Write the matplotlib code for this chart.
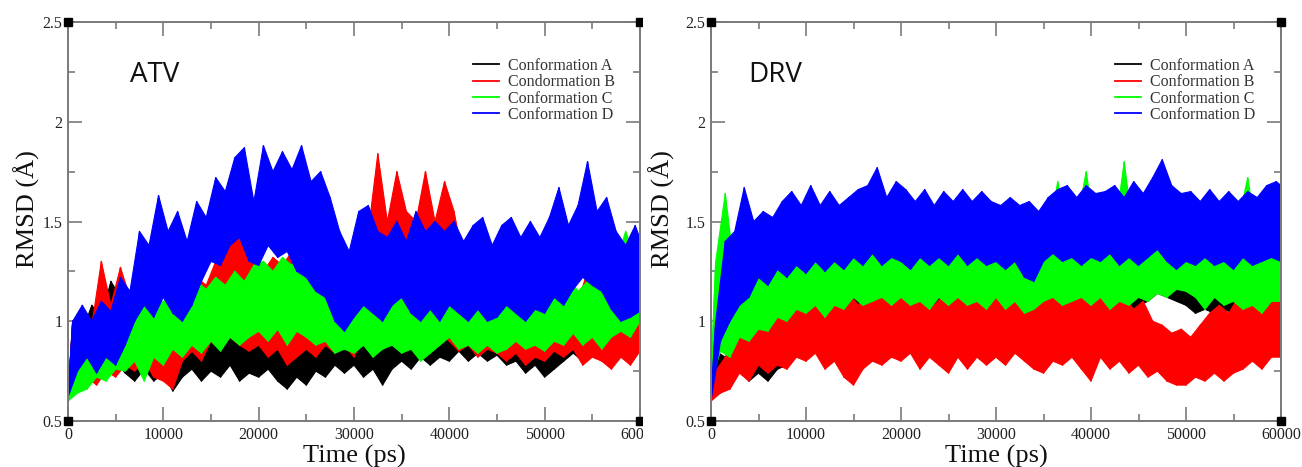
import numpy as np
import matplotlib
matplotlib.use("Agg")
import matplotlib.pyplot as plt
from matplotlib.patches import Rectangle

# ---------------- data (1000 ps resolution) ----------------
time_ps = list(range(0, 61000, 1000))
series_labels_atv = ["Conformation A", "Condormation B", "Conformation C", "Conformation D"]
series_labels_drv = ["Conformation A", "Conformation B", "Conformation C", "Conformation D"]
series_colors = ["#000000", "#ff0000", "#00ff00", "#0000ff"]

# ATV panel: lower / upper envelope of each RMSD trajectory
atv_A_lo = [0.60,0.68,0.70,0.78,0.72,0.80,0.74,0.70,0.76,0.70,0.74,0.65,0.72,0.76,0.70,0.75,0.72,0.78,0.70,0.74,
            0.72,0.76,0.70,0.66,0.72,0.68,0.75,0.72,0.78,0.74,0.78,0.72,0.76,0.68,0.76,0.80,0.76,0.82,0.78,0.82,
            0.80,0.85,0.80,0.84,0.80,0.83,0.78,0.80,0.74,0.78,0.72,0.76,0.80,0.84,0.80,0.84,0.80,0.85,0.82,0.86,0.84]
atv_A_hi = [1.00,0.95,1.08,1.02,1.20,1.12,1.05,0.92,0.98,0.90,0.95,0.88,0.98,0.92,0.96,0.90,0.98,0.92,0.95,0.90,
            0.97,0.92,0.96,0.90,0.94,0.88,0.96,0.92,0.98,0.95,1.02,0.96,1.00,0.94,1.00,0.96,1.02,0.98,1.00,1.05,
            1.10,1.02,1.06,1.00,1.06,1.02,0.98,1.02,0.96,0.94,0.98,1.02,0.98,1.05,1.00,1.06,1.02,1.05,1.00,1.06,1.02]
atv_B_lo = [0.60,0.66,0.72,0.68,0.75,0.72,0.78,0.75,0.80,0.72,0.70,0.66,0.80,0.85,0.80,0.90,0.86,0.92,0.88,0.85,
            0.88,0.82,0.86,0.78,0.82,0.86,0.82,0.88,0.84,0.88,0.82,0.92,0.95,0.88,0.96,0.92,0.98,0.92,0.96,0.94,
            0.90,0.85,0.88,0.82,0.86,0.84,0.80,0.84,0.78,0.82,0.80,0.85,0.82,0.86,0.78,0.82,0.80,0.76,0.82,0.78,0.85]
atv_B_hi = [1.00,1.05,0.98,1.30,1.08,1.27,1.12,1.15,1.05,1.12,1.02,1.10,1.12,1.22,1.18,1.30,1.35,1.45,1.38,1.40,
            1.25,1.32,1.28,1.35,1.22,1.30,1.18,1.22,1.12,1.20,1.30,1.45,1.84,1.50,1.75,1.55,1.50,1.75,1.50,1.70,
            1.55,1.30,1.18,1.22,1.12,1.18,1.10,1.16,1.08,1.12,1.15,1.08,1.15,1.10,1.25,1.15,1.20,1.12,1.18,1.08,1.00]
atv_C_lo = [0.60,0.64,0.66,0.72,0.70,0.76,0.75,0.80,0.70,0.82,0.78,0.86,0.82,0.88,0.84,0.90,0.85,0.92,0.88,0.92,
            0.95,0.90,0.96,0.88,0.95,0.92,0.88,0.90,0.84,0.86,0.84,0.88,0.82,0.86,0.88,0.84,0.86,0.80,0.84,0.88,
            0.92,0.86,0.88,0.84,0.88,0.84,0.86,0.90,0.86,0.88,0.85,0.90,0.88,0.94,0.88,0.92,0.86,0.92,0.95,0.92,1.00]
atv_C_hi = [0.95,1.00,0.95,1.05,1.00,1.10,1.05,1.12,1.15,1.08,1.12,1.15,1.10,1.20,1.16,1.22,1.18,1.25,1.20,1.28,
            1.30,1.25,1.32,1.28,1.35,1.38,1.28,1.20,1.15,1.08,1.15,1.10,1.15,1.08,1.12,1.15,1.08,1.12,1.06,1.10,
            1.15,1.08,1.12,1.06,1.12,1.08,1.15,1.20,1.16,1.12,1.20,1.16,1.22,1.15,1.20,1.25,1.18,1.30,1.45,1.32,1.30]
atv_D_lo = [0.62,0.75,0.82,0.74,0.82,0.78,0.88,1.00,1.08,1.02,1.12,1.04,1.00,1.08,1.20,1.30,1.28,1.38,1.42,1.30,
            1.28,1.38,1.32,1.35,1.25,1.22,1.15,1.12,1.00,0.95,1.02,1.08,1.04,1.00,1.08,1.12,1.04,1.00,1.06,1.00,
            1.08,1.04,1.00,1.06,1.00,1.02,1.08,1.04,1.00,1.06,1.04,1.12,1.08,1.16,1.22,1.18,1.15,1.06,1.00,1.02,1.05]
atv_D_hi = [1.00,1.08,1.00,1.10,1.05,1.22,1.15,1.45,1.38,1.63,1.45,1.55,1.40,1.60,1.52,1.72,1.65,1.82,1.87,1.60,
            1.88,1.75,1.85,1.76,1.88,1.70,1.75,1.62,1.45,1.35,1.55,1.58,1.45,1.42,1.50,1.40,1.55,1.45,1.50,1.45,
            1.50,1.40,1.48,1.52,1.38,1.48,1.52,1.42,1.50,1.42,1.52,1.67,1.48,1.58,1.80,1.55,1.62,1.45,1.38,1.48,1.35]

# DRV panel
drv_A_lo = [0.60,0.66,0.70,0.75,0.70,0.74,0.70,0.76,0.78,0.84,0.88,0.94,0.92,0.98,0.95,1.00,0.98,1.02,1.00,1.04,
            1.00,1.03,0.98,1.04,1.00,1.04,1.01,1.04,1.00,1.03,1.00,1.04,1.01,1.04,1.00,1.04,1.02,1.05,1.02,1.05,
            1.02,1.06,1.04,1.08,1.04,1.08,1.10,1.14,1.12,1.10,1.08,1.04,1.06,1.04,1.06,1.04,1.06,1.04,1.06,1.04,1.06]
drv_A_hi = [0.85,0.82,0.88,0.85,0.90,0.88,0.94,0.92,1.00,1.02,1.10,1.08,1.15,1.18,1.22,1.16,1.20,1.24,1.18,1.22,
            1.20,1.24,1.20,1.25,1.20,1.24,1.20,1.24,1.22,1.25,1.20,1.25,1.22,1.26,1.20,1.25,1.22,1.26,1.22,1.25,
            1.24,1.26,1.22,1.26,1.24,1.28,1.30,1.34,1.30,1.28,1.25,1.22,1.26,1.22,1.26,1.22,1.26,1.22,1.25,1.22,1.25]
drv_B_lo = [0.60,0.64,0.66,0.74,0.70,0.78,0.74,0.78,0.76,0.82,0.80,0.84,0.76,0.80,0.72,0.68,0.76,0.80,0.78,0.82,
            0.80,0.84,0.76,0.82,0.78,0.74,0.82,0.76,0.82,0.78,0.82,0.78,0.84,0.80,0.76,0.74,0.80,0.78,0.82,0.76,
            0.70,0.82,0.76,0.80,0.74,0.78,0.72,0.75,0.70,0.68,0.68,0.72,0.70,0.74,0.70,0.74,0.76,0.80,0.76,0.82,0.82]
drv_B_hi = [0.75,0.82,0.92,0.98,0.94,1.02,0.98,1.06,1.04,1.12,1.15,1.18,1.12,1.08,1.14,1.08,1.15,1.10,1.17,1.12,
            1.15,1.10,1.14,1.08,1.13,1.10,1.14,1.08,1.15,1.10,1.15,1.10,1.14,1.08,1.10,1.14,1.16,1.18,1.12,1.14,
            1.10,1.16,1.10,1.12,1.06,1.10,1.00,0.98,0.94,0.96,0.92,0.98,1.04,1.08,1.04,1.12,1.08,1.12,1.15,1.12,1.12]
drv_C_lo = [0.70,0.85,0.82,0.92,0.90,0.96,0.95,1.02,1.00,1.06,1.04,1.08,1.02,1.08,1.06,1.12,1.08,1.10,1.12,1.08,
            1.12,1.08,1.10,1.06,1.12,1.08,1.12,1.08,1.10,1.06,1.12,1.06,1.10,1.04,1.06,1.10,1.12,1.08,1.10,1.12,
            1.08,1.12,1.06,1.10,1.08,1.12,1.10,1.14,1.12,1.16,1.15,1.12,1.06,1.12,1.08,1.10,1.06,1.08,1.04,1.10,1.10]
drv_C_hi = [1.30,1.64,1.25,1.28,1.22,1.30,1.26,1.32,1.28,1.36,1.38,1.32,1.36,1.30,1.40,1.36,1.42,1.38,1.42,1.36,
            1.40,1.35,1.42,1.36,1.40,1.35,1.42,1.36,1.38,1.42,1.38,1.35,1.38,1.32,1.36,1.42,1.70,1.45,1.50,1.75,
            1.42,1.50,1.45,1.80,1.42,1.40,1.48,1.50,1.42,1.45,1.38,1.36,1.42,1.38,1.45,1.50,1.72,1.42,1.38,1.45,1.40]
drv_D_lo = [0.60,0.90,1.00,1.08,1.12,1.22,1.18,1.26,1.22,1.28,1.24,1.30,1.25,1.30,1.26,1.32,1.28,1.34,1.28,1.32,
            1.30,1.26,1.32,1.28,1.32,1.28,1.34,1.28,1.32,1.28,1.30,1.26,1.30,1.22,1.20,1.30,1.34,1.30,1.32,1.28,
            1.32,1.30,1.34,1.28,1.32,1.28,1.32,1.36,1.30,1.26,1.30,1.28,1.32,1.28,1.30,1.26,1.32,1.28,1.30,1.32,1.30]
drv_D_hi = [1.00,1.40,1.45,1.67,1.50,1.55,1.52,1.60,1.65,1.58,1.68,1.58,1.65,1.58,1.62,1.66,1.68,1.77,1.62,1.70,
            1.66,1.60,1.66,1.58,1.65,1.60,1.66,1.60,1.65,1.60,1.58,1.62,1.58,1.60,1.55,1.62,1.66,1.68,1.62,1.68,
            1.64,1.65,1.68,1.62,1.70,1.64,1.72,1.81,1.68,1.64,1.65,1.60,1.66,1.60,1.65,1.60,1.65,1.62,1.68,1.70,1.66]

panel_names = ["ATV", "DRV"]
x_ticks = [0, 10000, 20000, 30000, 40000, 50000, 60000]
y_ticks = [0.5, 1, 1.5, 2, 2.5]
y_tick_labels = ["0.5", "1", "1.5", "2", "2.5"]

# ---------------- figure ----------------
W, H = 1302, 467
fig = plt.figure(figsize=(W / 100, H / 100), dpi=100)

def fx(px):
    return px / W

def fy(py):
    return 1 - py / H

serif = "Liberation Serif"
spine_col = "#7a7a7a"

panels = [
    dict(x0=68, x1=640, name=panel_names[0], labels=series_labels_atv,
         data=[(atv_A_lo, atv_A_hi), (atv_B_lo, atv_B_hi), (atv_C_lo, atv_C_hi), (atv_D_lo, atv_D_hi)],
         name_x=130, leg_x=473, ylab_x=40),
    dict(x0=711, x1=1281, name=panel_names[1], labels=series_labels_drv,
         data=[(drv_A_lo, drv_A_hi), (drv_B_lo, drv_B_hi), (drv_C_lo, drv_C_hi), (drv_D_lo, drv_D_hi)],
         name_x=748, leg_x=1115, ylab_x=675),
]

top_px, bot_px = 22, 421
for i, p in enumerate(panels):
    wpx = p["x1"] - p["x0"]
    ax = fig.add_axes([fx(p["x0"]), fy(bot_px), fx(wpx), (bot_px - top_px) / H])
    ax.set_zorder(0 if i == 0 else 2)
    t = np.array(time_ps, dtype=float)
    handles = []
    for (lo, hi), col, lab in zip(p["data"], series_colors, p["labels"]):
        lo = np.array(lo)
        hi = np.array(hi)
        # the trajectory fluctuates rapidly between its lower and upper envelope
        px_ = np.concatenate([t + 500, t[::-1]])
        py_ = np.concatenate([hi, lo[::-1]])
        ax.fill(px_, py_, color=col, lw=0.8, zorder=2)
        zx = np.empty(2 * len(t))
        zy = np.empty(2 * len(t))
        zx[0::2] = t
        zx[1::2] = t + 500
        zy[0::2] = lo
        zy[1::2] = hi
        ax.plot(zx, zy, color=col, lw=1.0, zorder=2)
        h, = ax.plot([], [], color=col, lw=1.3, label=lab)
        handles.append(h)

    ax.set_xlim(0, 60000)
    ax.set_ylim(0.5, 2.5)
    ax.set_xticks(x_ticks)
    ax.set_xticklabels([str(v) for v in x_ticks])
    ax.set_xticks([5000, 15000, 25000, 35000, 45000, 55000], minor=True)
    ax.set_yticks(y_ticks)
    ax.set_yticklabels(y_tick_labels)
    ax.set_yticks([0.75, 1.25, 1.75, 2.25], minor=True)
    ax.tick_params(which="both", direction="in", top=True, right=True, color=spine_col,
                   width=1.2, labelsize=11.5, labelcolor="#222222", pad=4)
    ax.tick_params(which="major", length=10)
    ax.tick_params(which="minor", length=5)
    for lab in ax.get_xticklabels() + ax.get_yticklabels():
        lab.set_fontfamily(serif)
    for s in ax.spines.values():
        s.set_color(spine_col)
        s.set_linewidth(1.4)

    ax.set_xlabel("Time (ps)", fontfamily=serif, fontsize=19, color="#111111", labelpad=2)
    ax.set_ylabel("RMSD (Å)", fontfamily=serif, fontsize=19, color="#111111")
    ax.yaxis.set_label_coords((p["ylab_x"] - p["x0"]) / wpx, 0.53)

    ax.text((p["name_x"] - p["x0"]) / wpx, 1 - (82 - top_px) / (bot_px - top_px),
            p["name"], transform=ax.transAxes, fontsize=20, fontfamily="Open Sans",
            ha="left", va="baseline", color="#111111")

    leg = ax.legend(handles=handles, loc="upper left",
                    bbox_to_anchor=((p["leg_x"] - p["x0"]) / wpx, 1 - (58 - top_px) / (bot_px - top_px)),
                    frameon=False, borderpad=0, borderaxespad=0, labelspacing=0.02,
                    handlelength=1.6, handletextpad=0.6,
                    prop={"family": serif, "size": 11.5})
    for txt in leg.get_texts():
        txt.set_color("#333333")

    ax.plot([0, 1, 0, 1], [0, 0, 1, 1], "s", color="black", ms=5.5, transform=ax.transAxes,
            clip_on=False, zorder=6)

# white gap between the two panels (left panel is cropped at its right edge)
fig.patches.append(Rectangle((fx(643), 0), fx(700 - 643), 1, transform=fig.transFigure,
                             facecolor="white", edgecolor="none", zorder=1))

fig.savefig("out.png", dpi=100, facecolor="white")
